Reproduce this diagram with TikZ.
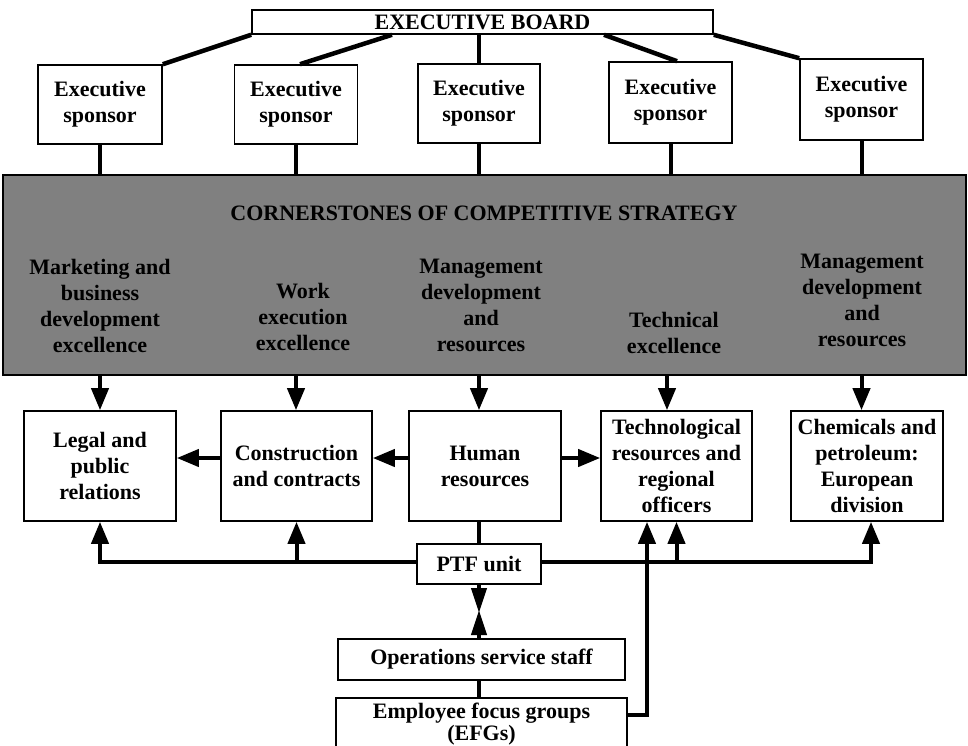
\documentclass[tikz,border=0pt]{standalone}
\usepackage{fontspec}
\setmainfont{Liberation Serif}
\usetikzlibrary{arrows.meta,calc}
\definecolor{slab}{RGB}{128,128,128}
\tikzset{
  lbl/.style={align=center, inner sep=0pt, font=\fontsize{22}{26}\selectfont\bfseries},
  box/.style={lbl, draw, line width=1.6pt, fill=white},
  conn/.style={line width=4pt},
  bconn/.style={line width=4.5pt},
  arr/.style={conn, -{Triangle[length=22pt,width=17pt]}},
  harr/.style={conn, -{Triangle[length=25pt,width=15pt]}},
}
\begin{document}
\begin{tikzpicture}[x=1pt,y=-1pt]
\clip (0,0) rectangle (968,745);
\fill[white] (0,0) rectangle (968,745);
% board and sponsors
\node[box, minimum width=461pt, minimum height=24pt] (board) at (482.5,22) {EXECUTIVE BOARD};
\node[box, minimum width=124pt, minimum height=79pt] (s1) at (100,104.5) {Executive\\sponsor};
\node[box, minimum width=123pt, minimum height=79pt] (s2) at (296,104.5) {Executive\\sponsor};
\node[box, minimum width=122pt, minimum height=79pt] (s3) at (479,103.5) {Executive\\sponsor};
\node[box, minimum width=123pt, minimum height=81pt] (s4) at (670.5,102.5) {Executive\\sponsor};
\node[box, minimum width=123pt, minimum height=81pt] (s5) at (861.5,99.5) {Executive\\sponsor};
\draw[bconn] (board.south west) -- (s1.north east);
\draw[bconn] ([xshift=-90.5pt]board.south) -- ([xshift=4pt]s2.north);
\draw[bconn] (s3.north |- board.south) -- (s3.north);
\draw[bconn] ([xshift=121.5pt]board.south) -- ([xshift=6.5pt]s4.north);
\draw[bconn] (board.south east) -- (s5.north west);
% grey slab
\node[draw, line width=1.6pt, fill=slab, minimum width=963pt, minimum height=200pt, inner sep=0pt] (grey) at (484.5,275) {};
\node[lbl] (title) at (484,213) {CORNERSTONES OF COMPETITIVE STRATEGY};
\node[lbl] (c1) at (100,305.5) {Marketing and\\business\\development\\excellence};
\node[lbl] (c2) at (303,317) {Work\\execution\\excellence};
\node[lbl] (c3) at (481,305.5) {Management\\development\\and\\resources};
\node[lbl] (c4) at (674,333) {Technical\\excellence};
\node[lbl] (c5) at (862,300) {Management\\development\\and\\resources};
\foreach \s in {s1,s2,s3,s4,s5}{
  \draw[conn] (\s.south) -- (\s.south |- grey.north);
}
% lower boxes
\node[box, minimum width=152pt, minimum height=110pt] (legal) at (100,466) {Legal and\\public\\relations};
\node[box, minimum width=151pt, minimum height=110pt] (constr) at (296.5,466) {Construction\\and contracts};
\node[box, minimum width=152pt, minimum height=110pt] (human) at (485,466) {Human\\resources};
\node[box, minimum width=151pt, minimum height=110pt] (tech) at (676.5,466) {Technological\\resources and\\regional\\officers};
\node[box, minimum width=152pt, minimum height=110pt] (chem) at (867,466) {Chemicals and\\petroleum:\\European\\division};
\draw[arr] (s1.south |- grey.south) -- (s1.south |- legal.north);
\draw[arr] (s2.south |- grey.south) -- (s2.south |- constr.north);
\draw[arr] (s3.south |- grey.south) -- (s3.south |- human.north);
\draw[arr] ([xshift=-9.5pt]tech.north |- grey.south) -- ([xshift=-9.5pt]tech.north);
\draw[arr] (s5.south |- grey.south) -- (s5.south |- chem.north);
\draw[arr] ([yshift=8pt]human.west) -- ([yshift=8pt]constr.east);
\draw[arr] ([yshift=8pt]constr.west) -- ([yshift=8pt]legal.east);
\draw[arr] ([yshift=8pt]human.east) -- ([yshift=8pt]tech.west);
% PTF and below
\node[box, minimum width=124pt, minimum height=40pt] (ptf) at (479,564) {PTF unit};
\node[box, minimum width=287pt, minimum height=41pt] (ops) at (481.5,659.5) {Operations service staff};
\node[box, minimum width=291pt, minimum height=53pt, anchor=north] (efg) at (481.5,697) {Employee focus groups\\[-4pt](EFGs)};
\coordinate (tipdown) at (479,613);
\coordinate (tipup) at (479,610);
\draw[conn] (ptf.north) -- (ptf.north |- human.south);
\draw[arr] ([yshift=2pt]ptf.west) -| (legal.south);
\draw[arr] ([yshift=2pt]ptf.west -| constr.south) -- (constr.south);
\draw[arr] ([yshift=2pt]ptf.east) -| ([xshift=4pt]chem.south);
\draw[arr] ([yshift=2pt]ptf.east -| tech.south) -- (tech.south);
\draw[arr] ([yshift=9.5pt]efg.east) -| ([xshift=-29.5pt]tech.south);
\draw[harr] (ptf.south) -- (tipdown);
\draw[harr] (ptf.south |- ops.north) -- (tipup);
\draw[conn] (ptf.south |- ops.south) -- (ptf.south |- efg.north);
\end{tikzpicture}
\end{document}
